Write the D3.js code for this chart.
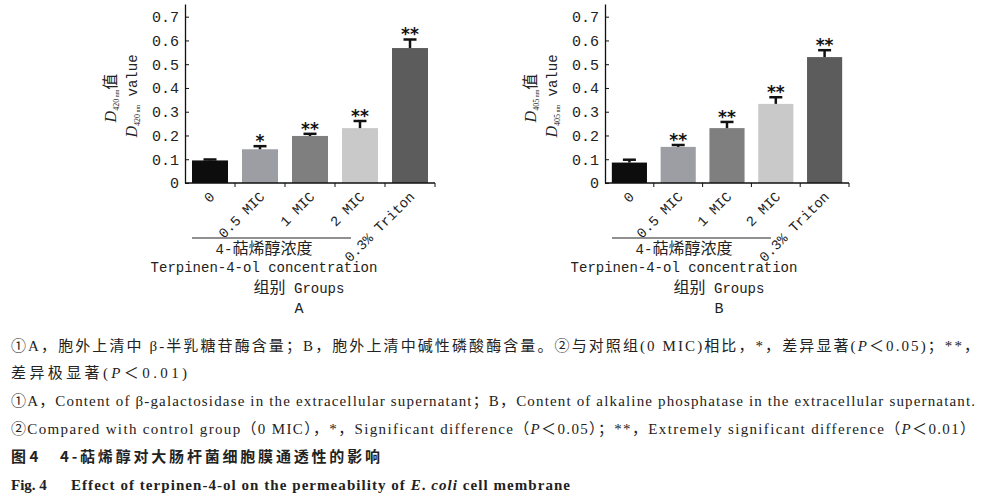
<!DOCTYPE html>
<html>
<head>
<meta charset="utf-8">
<script src="https://cdn.jsdelivr.net/npm/d3@7"></script>
<style>
  body { margin: 0; background: #fff; }
  svg { display: block; }
  .mono { font-family: "Liberation Mono", "DejaVu Sans Mono", monospace; }
  .cap { font-family: "Liberation Serif", "Noto Sans CJK SC", serif; font-size: 15px; fill: #222; }
</style>
</head>
<body>
<svg id="chart" width="983" height="501"></svg>
<script>
// groups on the x axis (same for both panels)
var groups = ["0", "0.5 MIC", "1 MIC", "2 MIC", "0.3% Triton"];

// A: beta-galactosidase, D420 nm
var valuesA = [0.095, 0.142, 0.198, 0.231, 0.568];
var errorsA = [0.004, 0.013, 0.009, 0.030, 0.036];
var starsA = ["", "*", "**", "**", "**"];

// B: alkaline phosphatase, D405 nm
var valuesB = [0.086, 0.152, 0.231, 0.333, 0.530];
var errorsB = [0.012, 0.008, 0.026, 0.028, 0.029];
var starsB = ["", "**", "**", "**", "**"];

var yTicks = [0, 0.1, 0.2, 0.3, 0.4, 0.5, 0.6, 0.7];

var barColors = ["#0d0d0d", "#9c9ea3", "#7f7f7f", "#c9c9c9", "#5c5c5c"];

var svg = d3.select("#chart");

function drawPanel(offsetX, bandEnd, values, errors, stars, wave, letter) {
    var g = svg.append("g").attr("transform", "translate(" + offsetX + ",0)");

    var x = d3.scaleBand().domain(groups).range([185, bandEnd]).paddingInner(0.28).paddingOuter(0.14);
    var y = d3.scaleLinear().domain([0, 0.7534]).range([183, 4]);

    // bars
    g.selectAll("rect.bar")
        .data(values)
        .enter()
        .append("rect")
        .attr("class", "bar")
        .attr("x", function(d, i) { return x(groups[i]); })
        .attr("y", function(d) { return y(d); })
        .attr("width", x.bandwidth())
        .attr("height", function(d) { return y(0) - y(d); })
        .attr("fill", function(d, i) { return barColors[i]; });

    // upper error bars
    var eb = g.selectAll("g.err")
        .data(values)
        .enter()
        .append("g")
        .attr("class", "err");
    eb.append("line")
        .attr("x1", function(d, i) { return x(groups[i]) + x.bandwidth() / 2; })
        .attr("x2", function(d, i) { return x(groups[i]) + x.bandwidth() / 2; })
        .attr("y1", function(d) { return y(d); })
        .attr("y2", function(d, i) { return y(d + errors[i]); })
        .attr("stroke", "#111").attr("stroke-width", 2.5);
    eb.append("line")
        .attr("x1", function(d, i) { return x(groups[i]) + x.bandwidth() / 2 - 6.5; })
        .attr("x2", function(d, i) { return x(groups[i]) + x.bandwidth() / 2 + 6.5; })
        .attr("y1", function(d, i) { return y(d + errors[i]); })
        .attr("y2", function(d, i) { return y(d + errors[i]); })
        .attr("stroke", "#111").attr("stroke-width", 2.5);

    // significance stars
    g.selectAll("text.star")
        .data(values)
        .enter()
        .append("text")
        .attr("class", "star")
        .attr("x", function(d, i) { return x(groups[i]) + x.bandwidth() / 2; })
        .attr("y", function(d, i) { return y(d + errors[i]) + 1; })
        .attr("text-anchor", "middle")
        .style("font-family", "DejaVu Sans")
        .style("font-size", "17px")
        .style("font-weight", "bold")
        .attr("fill", "#111")
        .text(function(d, i) { return stars[i]; });

    // y axis, ticks point inward
    var yAxis = d3.axisLeft(y)
        .tickValues(yTicks)
        .tickSizeInner(-4)
        .tickSizeOuter(0)
        .tickPadding(6)
        .tickFormat(function(d) { return d === 0 ? "0" : d3.format(".1f")(d); });
    var ya = g.append("g").attr("transform", "translate(185,0)").call(yAxis);
    ya.select(".domain").attr("stroke", "#111").attr("stroke-width", 1.3);
    ya.selectAll(".tick line").attr("stroke", "#111");
    ya.selectAll(".tick text")
        .attr("class", "mono")
        .style("font-size", "15px")
        .attr("fill", "#222");

    // x axis line and ticks between groups
    var xr = x.range();
    g.append("line")
        .attr("x1", xr[0]).attr("x2", xr[1])
        .attr("y1", y(0)).attr("y2", y(0))
        .attr("stroke", "#111").attr("stroke-width", 1.3);
    g.selectAll("line.xtick")
        .data(groups)
        .enter()
        .append("line")
        .attr("class", "xtick")
        .attr("x1", function(d) { return x(d) + x.bandwidth() + x.step() * x.paddingInner() / 2; })
        .attr("x2", function(d) { return x(d) + x.bandwidth() + x.step() * x.paddingInner() / 2; })
        .attr("y1", y(0)).attr("y2", y(0) + 4)
        .attr("stroke", "#111");

    // rotated group labels
    g.selectAll("text.xlab")
        .data(groups)
        .enter()
        .append("text")
        .attr("class", "mono")
        .attr("text-anchor", "end")
        .attr("dy", "0.35em")
        .attr("transform", function(d) {
            return "translate(" + (x(d) + x.bandwidth() / 2 + 2) + ",194) rotate(-45)";
        })
        .style("font-size", "14px")
        .attr("fill", "#222")
        .text(function(d) { return d; });

    // bracket line under concentration groups
    g.append("line")
        .attr("x1", 192).attr("x2", 351)
        .attr("y1", 238).attr("y2", 238)
        .attr("stroke", "#222").attr("stroke-width", 1.2);

    var conc = g.append("text")
        .attr("x", 264).attr("y", 254)
        .attr("text-anchor", "middle")
        .attr("fill", "#222");
    conc.append("tspan").attr("class", "mono").style("font-size", "14px").text("4-");
    conc.append("tspan").style("font-family", "'Noto Sans CJK SC'").style("font-size", "16px").text("萜烯醇浓度");
    g.append("text")
        .attr("class", "mono")
        .attr("x", 264).attr("y", 272)
        .attr("text-anchor", "middle")
        .style("font-size", "14px")
        .attr("fill", "#222")
        .text("Terpinen-4-ol concentration");
    var grp = g.append("text")
        .attr("x", 299).attr("y", 293)
        .attr("text-anchor", "middle")
        .attr("fill", "#222");
    grp.append("tspan").style("font-family", "'Noto Sans CJK SC'").style("font-size", "16px").text("组别");
    grp.append("tspan").attr("class", "mono").style("font-size", "14px").text(" Groups");
    g.append("text")
        .attr("class", "mono")
        .attr("x", 299).attr("y", 313)
        .attr("text-anchor", "middle")
        .style("font-size", "15px")
        .attr("fill", "#222")
        .text(letter);

    // y axis titles (two lines)
    var t1 = g.append("text")
        .attr("transform", "translate(116,98) rotate(-90)")
        .attr("text-anchor", "middle")
        .attr("fill", "#222");
    t1.append("tspan").style("font-family", "Liberation Serif").style("font-style", "italic").style("font-size", "16px").text("D");
    t1.append("tspan").attr("dy", 3).style("font-family", "Liberation Serif").style("font-size", "8px").text(wave);
    t1.append("tspan").style("font-family", "Liberation Serif").style("font-size", "6px").text(" nm");
    t1.append("tspan").attr("dy", -3).style("font-family", "'Noto Sans CJK SC'").style("font-size", "16px").text("值");

    var t2 = g.append("text")
        .attr("transform", "translate(137,96) rotate(-90)")
        .attr("text-anchor", "middle")
        .attr("fill", "#222");
    t2.append("tspan").style("font-family", "Liberation Serif").style("font-style", "italic").style("font-size", "16px").text("D");
    t2.append("tspan").attr("dy", 3).style("font-family", "Liberation Serif").style("font-size", "8px").text(wave);
    t2.append("tspan").style("font-family", "Liberation Serif").style("font-size", "6px").text(" nm");
    t2.append("tspan").attr("dy", -3).attr("class", "mono").style("font-size", "14px").text(" value");
}

drawPanel(0, 435, valuesA, errorsA, starsA, "420", "A");
drawPanel(420, 429, valuesB, errorsB, starsB, "405", "B");

// caption lines
function capLine(y, x0, len, parts, weight) {
    var t = svg.append("text").attr("class", "cap").attr("x", x0).attr("y", y);
    if (weight) t.style("font-weight", weight);
    if (len) t.attr("textLength", len).attr("lengthAdjust", "spacing");
    parts.forEach(function(p) {
        var s = t.append("tspan").text(p[0]);
        if (p[1]) s.style("font-style", "italic");
    });
    return t;
}

capLine(351, 11, 968, [["①A，胞外上清中 β-半乳糖苷酶含量；B，胞外上清中碱性磷酸酶含量。②与对照组(0 MIC)相比，*，差异显著("], ["P", 1], ["＜0.05)；**，"]]);
capLine(378, 11, 176, [["差异极显著("], ["P", 1], ["＜0.01)"]]);
capLine(406, 11, 964, [["①A，Content of β-galactosidase in the extracellular supernatant；B，Content of alkaline phosphatase in the extracellular supernatant."]]);
capLine(434, 11, 964, [["②Compared with control group（0 MIC），*，Significant difference（"], ["P", 1], ["＜0.05）；**，Extremely significant difference（"], ["P", 1], ["＜0.01）"]]);

svg.append("text").attr("x", 11).attr("y", 462)
    .style("font-family", "'Noto Sans CJK SC'").style("font-size", "15px").style("font-weight", "bold").attr("fill", "#222")
    .text("图 4");
svg.append("text").attr("x", 60).attr("y", 462)
    .attr("textLength", 320).attr("lengthAdjust", "spacing")
    .style("font-family", "'Noto Sans CJK SC'").style("font-size", "15px").style("font-weight", "bold").attr("fill", "#222")
    .text("4-萜烯醇对大肠杆菌细胞膜通透性的影响");

capLine(490, 11, null, [["Fig. 4"]], "bold");
capLine(490, 71, 499, [["Effect of terpinen-4-ol on the permeability of "], ["E", 1], [". "], ["coli", 1], [" cell membrane"]], "bold");
</script>
</body>
</html>
